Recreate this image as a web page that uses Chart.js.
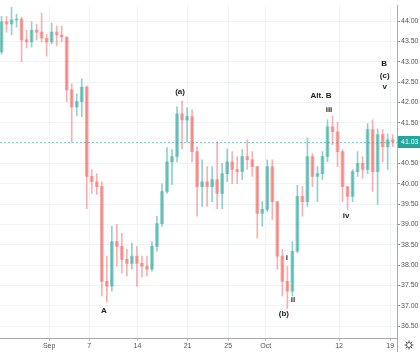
<!DOCTYPE html>
<html>
<head>
<meta charset="utf-8">
<script src="https://cdn.jsdelivr.net/npm/chart.js@4.4.0/dist/chart.umd.min.js"></script>
<style>
html, body { margin: 0; padding: 0; background: #fff; }
</style>
</head>
<body>
<canvas id="chart" width="420" height="352"></canvas>
<script>
// half-day candles, Aug 25 .. Oct 19 (open = previous close)
var firstOpen = 43.24;
var highs = [44.12, 44.12, 44.34, 44.17, 44.10, 43.78, 43.98, 43.93, 44.20, 43.68,
             43.95, 43.88, 43.88, 43.62, 42.46, 42.21, 42.58, 42.41, 40.35, 40.25,
             40.05, 38.22, 38.95, 39.00, 38.78, 38.39, 38.54, 38.46, 38.22, 38.22,
             38.58, 39.20, 40.00, 40.89, 40.84, 41.89, 42.04, 41.87, 41.82, 40.91,
             40.59, 40.42, 40.42, 41.03, 40.50, 40.86, 40.79, 40.67, 40.84, 41.08,
             40.79, 40.42, 39.56, 40.59, 40.59, 39.56, 38.39, 37.97, 38.58, 39.96,
             39.93, 41.13, 40.74, 40.42, 40.79, 41.57, 41.67, 41.52, 40.84, 39.93,
             40.35, 40.79, 40.67, 41.48, 41.57, 41.35, 41.33, 41.23, 41.21];
var lows =  [43.19, 43.73, 43.66, 43.85, 43.00, 43.34, 43.36, 43.54, 43.49, 43.14,
             43.44, 43.39, 43.49, 42.02, 41.03, 41.67, 41.65, 39.39, 39.76, 39.74,
             37.24, 37.09, 37.36, 37.97, 37.80, 37.73, 37.90, 37.48, 37.70, 37.73,
             37.85, 38.34, 38.95, 39.76, 39.98, 40.54, 40.86, 41.03, 40.54, 39.20,
             39.44, 39.44, 39.56, 39.39, 39.39, 40.05, 40.00, 40.00, 40.10, 40.35,
             40.18, 38.66, 38.95, 39.32, 39.12, 37.90, 37.24, 36.92, 37.24, 38.30,
             39.20, 39.44, 39.93, 39.56, 40.10, 40.54, 40.96, 40.42, 39.56, 39.37,
             39.56, 40.18, 40.13, 40.25, 39.81, 39.49, 40.54, 40.35, 40.91];
var closes = [43.98, 43.93, 44.03, 44.05, 43.54, 43.49, 43.78, 43.73, 43.58, 43.49,
              43.73, 43.66, 43.61, 42.31, 41.89, 42.02, 42.38, 40.18, 40.05, 39.93,
              37.60, 37.48, 38.58, 38.46, 38.14, 38.04, 38.22, 38.04, 37.97, 37.90,
              38.46, 39.02, 39.81, 40.54, 40.67, 41.72, 41.57, 41.65, 40.79, 39.93,
              40.05, 39.93, 40.10, 39.76, 40.25, 40.54, 40.35, 40.30, 40.67, 40.59,
              40.42, 39.27, 39.37, 40.42, 39.56, 38.22, 37.60, 37.36, 38.34, 39.69,
              39.56, 40.67, 40.18, 40.25, 40.67, 41.40, 41.28, 40.79, 39.93, 39.69,
              40.30, 40.50, 40.35, 41.33, 40.30, 41.21, 40.91, 41.08, 41.03];

// date ticks (in half-day units)
var tickPos = [10, 18, 27.6, 37.6, 45.7, 53.2, 67.8, 78];
var tickText = ['Sep', '7', '14', '21', '25', 'Oct', '12', '19'];
var lastPrice = 41.03;

// Elliott wave labels
var waveText = ['A', '(a)', 'Alt. B', 'iii', '(b)', 'i', 'ii', 'iv', 'B', '(c)', 'v'];
var waveX = [20.9, 36.1, 64.2, 65.8, 56.8, 57.4, 58.6, 69.2, 76.8, 76.9, 76.9];
var waveY = [36.87, 42.26, 42.16, 41.82, 36.79, 38.19, 37.14, 39.22, 42.95, 42.65, 42.38];

var upColor = 'rgba(38,166,154,0.5)';
var downColor = 'rgba(239,83,80,0.45)';

var wicks = [], bodies = [], colors = [];
for (var i = 0; i < closes.length; i++) {
    var o = i === 0 ? firstOpen : closes[i - 1];
    wicks.push({ x: i + 0.5, y: [lows[i], highs[i]] });
    bodies.push({ x: i + 0.5, y: [o, closes[i]] });
    colors.push(closes[i] >= o ? upColor : downColor);
}

Chart.defaults.font.family = '"Liberation Sans", Arial, sans-serif';

var overlay = {
    id: 'overlay',
    beforeDatasetsDraw: function (chart) {
        var ctx = chart.ctx, a = chart.chartArea;
        var y = chart.scales.y.getPixelForValue(lastPrice);
        ctx.save();
        ctx.strokeStyle = 'rgba(38,166,154,0.55)';
        ctx.lineWidth = 1;
        ctx.setLineDash([2, 2]);
        ctx.beginPath();
        ctx.moveTo(a.left, Math.round(y) + 0.5);
        ctx.lineTo(a.right, Math.round(y) + 0.5);
        ctx.stroke();
        ctx.restore();
    },
    afterDraw: function (chart) {
        var ctx = chart.ctx, a = chart.chartArea;
        var xs = chart.scales.x, ys = chart.scales.y;
        ctx.save();
        // last price box
        var y = Math.round(ys.getPixelForValue(lastPrice));
        ctx.fillStyle = '#26a69a';
        ctx.fillRect(a.right + 1, y - 6, chart.width - a.right - 1, 12);
        ctx.fillStyle = '#fff';
        ctx.font = '7px "Liberation Sans", Arial, sans-serif';
        ctx.textBaseline = 'middle';
        ctx.fillText(lastPrice.toFixed(2), a.right + 4, y);
        // wave labels
        ctx.fillStyle = '#222';
        ctx.font = 'bold 8px "Liberation Sans", Arial, sans-serif';
        ctx.textAlign = 'center';
        for (var k = 0; k < waveText.length; k++) {
            ctx.fillText(waveText[k], xs.getPixelForValue(waveX[k]), ys.getPixelForValue(waveY[k]));
        }
        // corner separator + gear
        ctx.strokeStyle = '#aaa';
        ctx.lineWidth = 1;
        ctx.beginPath();
        ctx.moveTo(Math.round(a.right) + 0.5, a.bottom);
        ctx.lineTo(Math.round(a.right) + 0.5, chart.height);
        ctx.stroke();
        var gx = 409, gy = 345;
        ctx.strokeStyle = '#555';
        ctx.beginPath();
        ctx.arc(gx, gy, 2.5, 0, Math.PI * 2);
        ctx.stroke();
        for (var s = 0; s < 8; s++) {
            var ang = s * Math.PI / 4;
            ctx.beginPath();
            ctx.moveTo(gx + Math.cos(ang) * 3, gy + Math.sin(ang) * 3);
            ctx.lineTo(gx + Math.cos(ang) * 4.5, gy + Math.sin(ang) * 4.5);
            ctx.stroke();
        }
        ctx.restore();
    }
};

new Chart(document.getElementById('chart'), {
    type: 'bar',
    data: {
        datasets: [{
            data: bodies,
            backgroundColor: colors,
            barThickness: 3,
            grouped: false
        }, {
            data: wicks,
            backgroundColor: colors,
            barThickness: 1,
            grouped: false
        }]
    },
    options: {
        responsive: false,
        animation: false,
        devicePixelRatio: 1,
        layout: { padding: 0 },
        plugins: {
            legend: { display: false },
            tooltip: { enabled: false }
        },
        scales: {
            x: {
                type: 'linear',
                position: 'bottom',
                offset: false,
                min: 0.2,
                max: 79.36,
                afterBuildTicks: function (scale) {
                    scale.ticks = tickPos.map(function (v) { return { value: v }; });
                },
                afterFit: function (scale) { scale.height = 14; },
                ticks: {
                    autoSkip: false,
                    maxRotation: 0,
                    padding: 1,
                    color: '#555',
                    font: { size: 7 },
                    callback: function (v, idx) { return tickText[idx]; }
                },
                grid: { offset: false, color: '#f0f3fa', tickColor: '#bbb', tickLength: 3 },
                border: { color: '#aaa' }
            },
            y: {
                position: 'right',
                min: 36.206,
                max: 44.392,
                afterFit: function (scale) { scale.width = 23; },
                ticks: {
                    stepSize: 0.5,
                    includeBounds: false,
                    padding: 1,
                    color: '#555',
                    font: { size: 7 },
                    callback: function (v) { return v.toFixed(2); }
                },
                grid: { color: '#f0f3fa', tickColor: '#999', tickLength: 3 },
                border: { color: '#aaa' }
            }
        }
    },
    plugins: [overlay]
});
</script>
</body>
</html>
